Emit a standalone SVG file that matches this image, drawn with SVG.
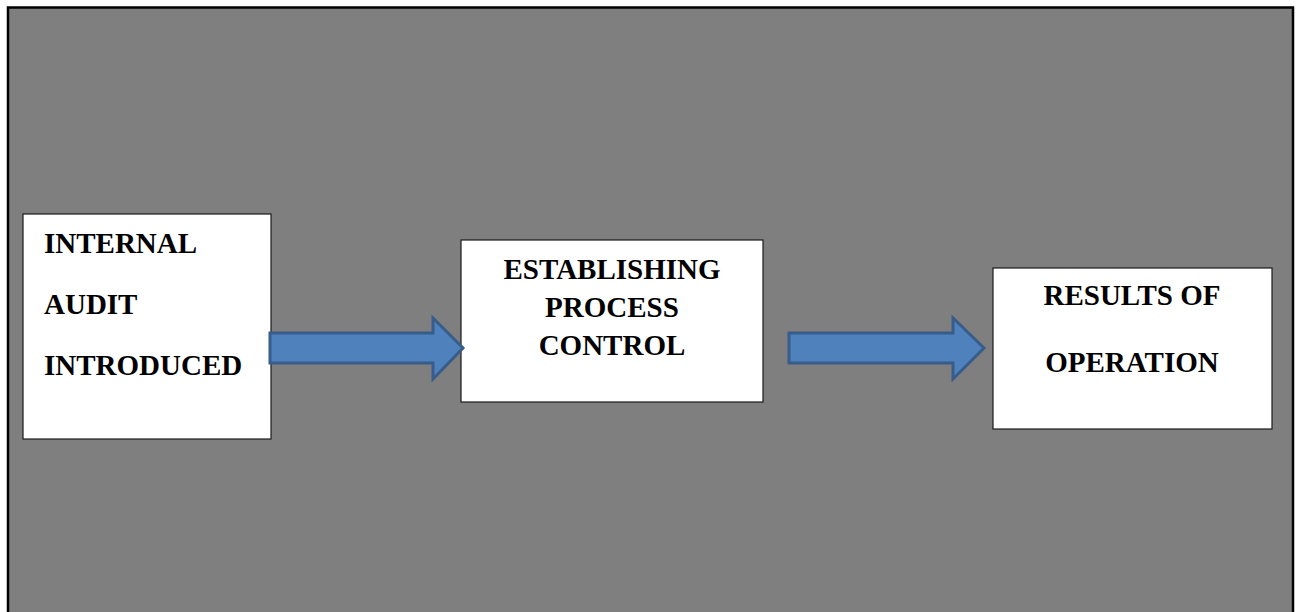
<svg xmlns="http://www.w3.org/2000/svg" width="1298" height="612" viewBox="0 0 1298 612">
<style>
.box{fill:#ffffff;stroke:#1a1a1a;stroke-width:1.2}
.lbl{font-family:"Liberation Serif","Times New Roman",serif;font-weight:bold;font-size:29px;fill:#000}
.c{text-anchor:middle}
.arrow{fill:#4f81bd;stroke:#385d8a;stroke-width:3;stroke-linejoin:miter}
</style>
<rect x="0" y="0" width="1298" height="612" fill="#ffffff"/>
<rect x="8" y="7.5" width="1285" height="620" fill="#7f7f7f" stroke="#000" stroke-width="2.5"/>
<g id="node-internal-audit">
<rect class="box" x="23" y="214" width="248" height="225"/>
<text class="lbl" x="44" y="253">INTERNAL</text>
<text class="lbl" x="44" y="314">AUDIT</text>
<text class="lbl" x="44" y="375">INTRODUCED</text>
</g>
<g id="node-process-control">
<rect class="box" x="461" y="240" width="302" height="162"/>
<text class="lbl c" x="612" y="279">ESTABLISHING</text>
<text class="lbl c" x="612" y="317">PROCESS</text>
<text class="lbl c" x="612" y="355">CONTROL</text>
</g>
<g id="node-results">
<rect class="box" x="993" y="268" width="279" height="161"/>
<text class="lbl c" x="1132" y="305">RESULTS OF</text>
<text class="lbl c" x="1132" y="372">OPERATION</text>
</g>
<g id="connectors">
<path class="arrow" d="M270,333 L433,333 L433,318 L463,348 L433,379 L433,363 L270,363 Z"/>
<path class="arrow" d="M789,333 L953,333 L953,318 L984,348 L953,379 L953,363 L789,363 Z"/>
</g>
</svg>
